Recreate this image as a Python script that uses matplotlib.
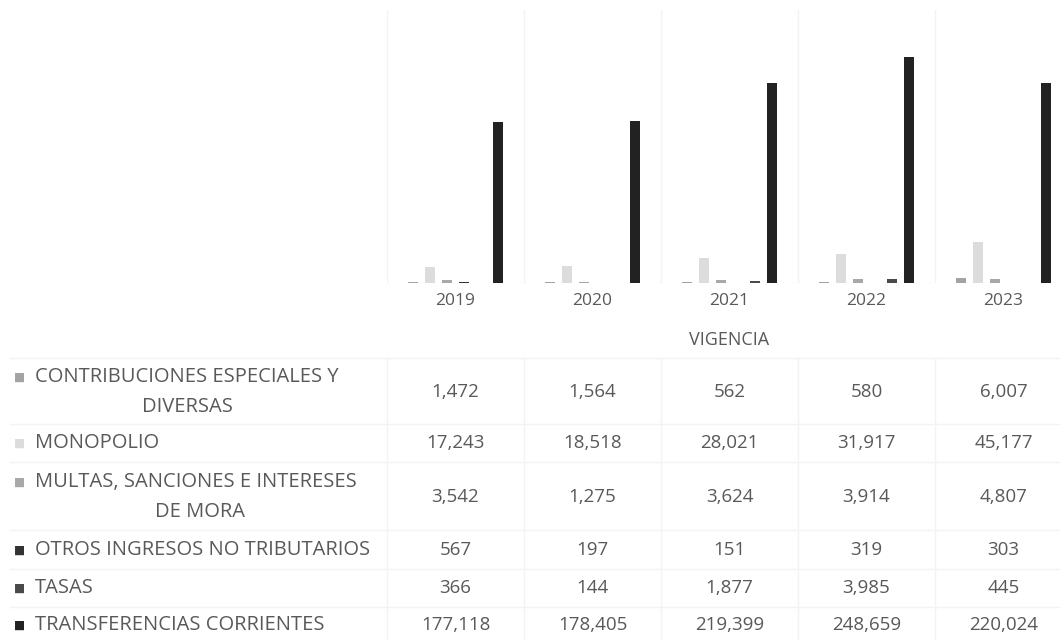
import matplotlib
matplotlib.use("Agg")
import matplotlib.pyplot as plt
import numpy as np

plt.rcParams['font.family'] = ['Open Sans', 'DejaVu Sans']

years = ['2019', '2020', '2021', '2022', '2023']
series_names = [['CONTRIBUCIONES ESPECIALES Y', 'DIVERSAS'], ['MONOPOLIO'],
                ['MULTAS, SANCIONES E INTERESES', 'DE MORA'],
                ['OTROS INGRESOS NO TRIBUTARIOS'], ['TASAS'],
                ['TRANSFERENCIAS CORRIENTES']]
contribuciones = [1472, 1564, 562, 580, 6007]
monopolio = [17243, 18518, 28021, 31917, 45177]
multas = [3542, 1275, 3624, 3914, 4807]
otros = [567, 197, 151, 319, 303]
tasas = [366, 144, 1877, 3985, 445]
transferencias = [177118, 178405, 219399, 248659, 220024]
series_values = [contribuciones, monopolio, multas, otros, tasas, transferencias]
colors = ['#a3a3a3', '#dcdcdc', '#a8a8a8', '#333333', '#4a4a4a', '#222222']

W, H = 1060, 640
fig = plt.figure(figsize=(W / 100, H / 100), dpi=100)
TXT = '#595959'
GRID = '#f3f3f3'


def fx(x):
    return x / W


def fy(y):
    return 1 - y / H


# plot area
left_px, right_px = 387, 1072
base_px, top_px = 283, 10
ax = fig.add_axes([fx(left_px), fy(base_px), (right_px - left_px) / W,
                   (base_px - top_px) / H])
ax.set_xlim(-0.5, len(years) - 0.5)
ax.set_ylim(0, 300000)
step = 0.124
width = 0.075
x = np.arange(len(years))
for i, (vals, c) in enumerate(zip(series_values, colors)):
    ax.bar(x + (i - 2.5) * step, vals, width=width, color=c, zorder=3)
for b in np.arange(-0.5, len(years), 1.0):
    ax.axvline(b, color=GRID, lw=1, zorder=1)
ax.axhline(0, color='#e3e3e3', lw=0.8, zorder=2)
ax.set_xticks([])
ax.set_yticks([])
for s in ax.spines.values():
    s.set_visible(False)

# category labels and axis title
col_px = [left_px + (right_px - left_px) * (i + 0.5) / len(years) for i in range(len(years))]
for cx, yr in zip(col_px, years):
    fig.text(fx(cx), fy(301), yr, ha='center', va='center', fontsize=12.5, color=TXT)
fig.text(fx(col_px[2]), fy(340), 'VIGENCIA', ha='center', va='center', fontsize=13, color=TXT)

# data table
row_y = [392, 443, 497, 550, 588, 625]
line_gap = 30
second_line_center = [187, None, 200, None, None, None]
row_bounds = [358, 424, 462, 530, 569, 607, 645]
for yb in row_bounds:
    fig.add_artist(plt.Line2D([fx(10), fx(W)], [fy(yb), fy(yb)], color=GRID, lw=1))
for b in range(len(years) + 1):
    xb = left_px + (right_px - left_px) * b / len(years)
    fig.add_artist(plt.Line2D([fx(xb), fx(xb)], [fy(row_bounds[0]), fy(row_bounds[-1])],
                              color=GRID, lw=1))

for lines, vals, c, ry, c2 in zip(series_names, series_values, colors, row_y,
                                  second_line_center):
    if len(lines) == 2:
        y1 = ry - line_gap / 2
        fig.text(fx(35), fy(y1), lines[0], ha='left', va='center', fontsize=14.5, color=TXT)
        fig.text(fx(c2), fy(y1 + line_gap), lines[1], ha='center', va='center',
                 fontsize=14.5, color=TXT)
    else:
        y1 = ry
        fig.text(fx(35), fy(y1), lines[0], ha='left', va='center', fontsize=14.5, color=TXT)
    fig.text(fx(14), fy(y1), '\u25A0', ha='left', va='center', fontsize=8.5,
             color=c, family='DejaVu Sans')
    for cx, v in zip(col_px, vals):
        fig.text(fx(cx), fy(ry), f'{v:,}', ha='center', va='center', fontsize=13.5, color=TXT)

fig.savefig('out.png', dpi=100, facecolor='white')
